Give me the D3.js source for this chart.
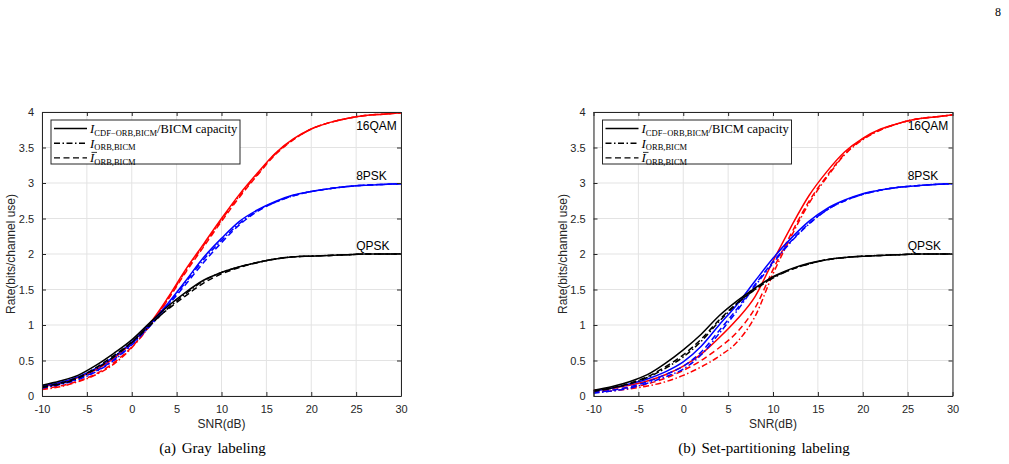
<!DOCTYPE html>
<html>
<head>
<meta charset="utf-8">
<script src="https://cdn.jsdelivr.net/npm/d3@7"></script>
<style>
  body { margin: 0; background: #fff; }
  svg { display: block; }
  .tick-label { font-family: "Liberation Sans", Arial, sans-serif; font-size: 11px; fill: #262626; }
  .axis-label { font-family: "Liberation Sans", Arial, sans-serif; font-size: 12px; fill: #262626; }
  .mod-label { font-family: "Liberation Sans", Arial, sans-serif; font-size: 12px; fill: #000; }
  .legend-text { font-family: "Liberation Serif", "Times New Roman", serif; font-size: 13px; fill: #000; }
  .caption { font-family: "Liberation Serif", "Times New Roman", serif; font-size: 15px; fill: #000; }
</style>
</head>
<body>
<div id="chart"></div>
<script>
// SNR grid (dB)
const snr = [-10, -8, -6, -4, -2, 0, 2, 4, 6, 8, 10, 12, 14, 16, 18, 20, 22, 24, 26, 28, 30];

// (a) Gray labeling
const grayQpskCdf    = [0.15, 0.21, 0.29, 0.43, 0.60, 0.79, 1.03, 1.26, 1.46, 1.63, 1.74, 1.82, 1.88, 1.93, 1.96, 1.97, 1.98, 1.99, 2.00, 2.00, 2.00];
const grayQpskOrb    = [0.12, 0.17, 0.25, 0.38, 0.55, 0.75, 0.99, 1.23, 1.44, 1.62, 1.74, 1.82, 1.88, 1.93, 1.96, 1.97, 1.98, 1.99, 2.00, 2.00, 2.00];
const grayQpskOrbBar = [0.13, 0.18, 0.26, 0.40, 0.57, 0.76, 1.00, 1.22, 1.41, 1.59, 1.72, 1.81, 1.88, 1.93, 1.96, 1.97, 1.98, 1.99, 2.00, 2.00, 2.00];
const gray8pskCdf    = [0.14, 0.19, 0.27, 0.39, 0.55, 0.76, 1.01, 1.30, 1.62, 1.95, 2.22, 2.46, 2.62, 2.74, 2.83, 2.88, 2.92, 2.95, 2.97, 2.98, 2.99];
const gray8pskOrb    = [0.11, 0.16, 0.23, 0.34, 0.50, 0.72, 0.98, 1.28, 1.60, 1.92, 2.19, 2.43, 2.61, 2.73, 2.82, 2.88, 2.92, 2.95, 2.97, 2.98, 2.99];
const gray8pskOrbBar = [0.12, 0.17, 0.24, 0.35, 0.51, 0.73, 0.99, 1.27, 1.57, 1.88, 2.16, 2.41, 2.60, 2.73, 2.82, 2.88, 2.92, 2.95, 2.97, 2.98, 2.99];
const gray16qamCdf    = [0.13, 0.18, 0.26, 0.37, 0.53, 0.75, 1.02, 1.38, 1.78, 2.14, 2.50, 2.84, 3.14, 3.42, 3.62, 3.76, 3.85, 3.91, 3.95, 3.97, 3.99];
const gray16qamOrb    = [0.09, 0.13, 0.20, 0.30, 0.45, 0.68, 0.99, 1.36, 1.76, 2.12, 2.48, 2.82, 3.12, 3.41, 3.61, 3.76, 3.85, 3.91, 3.95, 3.97, 3.99];
const gray16qamOrbBar = [0.10, 0.14, 0.21, 0.31, 0.47, 0.69, 0.99, 1.35, 1.74, 2.10, 2.46, 2.80, 3.11, 3.40, 3.61, 3.76, 3.85, 3.91, 3.95, 3.97, 3.99];

// (b) Set-partitioning labeling
const spQpskCdf    = [0.08, 0.13, 0.20, 0.30, 0.46, 0.65, 0.87, 1.13, 1.34, 1.52, 1.68, 1.79, 1.87, 1.92, 1.95, 1.97, 1.98, 1.99, 2.00, 2.00, 2.00];
const spQpskOrb    = [0.07, 0.11, 0.17, 0.26, 0.39, 0.55, 0.77, 1.05, 1.30, 1.50, 1.66, 1.78, 1.86, 1.92, 1.95, 1.97, 1.98, 1.99, 2.00, 2.00, 2.00];
const spQpskOrbBar = [0.07, 0.11, 0.18, 0.27, 0.41, 0.58, 0.80, 1.07, 1.31, 1.50, 1.67, 1.78, 1.86, 1.92, 1.95, 1.97, 1.98, 1.99, 2.00, 2.00, 2.00];
const sp8pskCdf    = [0.07, 0.11, 0.17, 0.24, 0.34, 0.48, 0.70, 1.00, 1.29, 1.62, 1.94, 2.22, 2.46, 2.64, 2.76, 2.85, 2.90, 2.94, 2.96, 2.98, 2.99];
const sp8pskOrb    = [0.04, 0.07, 0.11, 0.18, 0.27, 0.38, 0.58, 0.88, 1.20, 1.55, 1.87, 2.17, 2.42, 2.62, 2.75, 2.84, 2.90, 2.94, 2.96, 2.98, 2.99];
const sp8pskOrbBar = [0.05, 0.08, 0.13, 0.20, 0.30, 0.42, 0.62, 0.92, 1.23, 1.57, 1.89, 2.18, 2.43, 2.62, 2.75, 2.84, 2.90, 2.94, 2.96, 2.98, 2.99];
const sp16qamCdf    = [0.08, 0.11, 0.15, 0.21, 0.30, 0.42, 0.59, 0.82, 1.08, 1.40, 1.90, 2.38, 2.82, 3.16, 3.44, 3.63, 3.76, 3.84, 3.90, 3.93, 3.96];
const sp16qamOrb    = [0.05, 0.07, 0.10, 0.14, 0.20, 0.29, 0.41, 0.56, 0.76, 1.12, 1.72, 2.24, 2.71, 3.08, 3.40, 3.61, 3.75, 3.84, 3.90, 3.93, 3.96];
const sp16qamOrbBar = [0.06, 0.09, 0.12, 0.17, 0.25, 0.36, 0.50, 0.68, 0.90, 1.24, 1.78, 2.28, 2.74, 3.10, 3.41, 3.62, 3.75, 3.84, 3.90, 3.93, 3.96];

const xTicks = [-10, -5, 0, 5, 10, 15, 20, 25, 30];
const yTicks = [0, 0.5, 1, 1.5, 2, 2.5, 3, 3.5, 4];
const modLabels = ["16QAM", "8PSK", "QPSK"];
const modLabelRates = [3.75, 3.04, 2.06];

const width = 1009, height = 464;
const plotW = 359, plotH = 284, plotTop = 112;
const dashDot = "6,2.5,1.5,2.5";
const dashed = "6,3.5";

const svg = d3.select("#chart").append("svg")
  .attr("width", width)
  .attr("height", height);

// page number
svg.append("text")
  .attr("x", 998).attr("y", 16)
  .attr("text-anchor", "middle")
  .style("font-family", "Liberation Serif, serif")
  .style("font-size", "12px")
  .text("8");

const panels = [
  {
    left: 42,
    caption: "(a) Gray labeling",
    series: [
      { values: gray16qamCdf, color: "#ff0000", dash: null },
      { values: gray16qamOrb, color: "#ff0000", dash: dashDot },
      { values: gray16qamOrbBar, color: "#ff0000", dash: dashed },
      { values: gray8pskCdf, color: "#0000ff", dash: null },
      { values: gray8pskOrb, color: "#0000ff", dash: dashDot },
      { values: gray8pskOrbBar, color: "#0000ff", dash: dashed },
      { values: grayQpskCdf, color: "#000000", dash: null },
      { values: grayQpskOrb, color: "#000000", dash: dashDot },
      { values: grayQpskOrbBar, color: "#000000", dash: dashed }
    ]
  },
  {
    left: 593.5,
    caption: "(b) Set-partitioning labeling",
    series: [
      { values: sp16qamCdf, color: "#ff0000", dash: null },
      { values: sp16qamOrb, color: "#ff0000", dash: dashDot },
      { values: sp16qamOrbBar, color: "#ff0000", dash: dashed },
      { values: sp8pskCdf, color: "#0000ff", dash: null },
      { values: sp8pskOrb, color: "#0000ff", dash: dashDot },
      { values: sp8pskOrbBar, color: "#0000ff", dash: dashed },
      { values: spQpskCdf, color: "#000000", dash: null },
      { values: spQpskOrb, color: "#000000", dash: dashDot },
      { values: spQpskOrbBar, color: "#000000", dash: dashed }
    ]
  }
];

panels.forEach((p, pi) => {
  const g = svg.append("g").attr("transform", `translate(${p.left},${plotTop})`);

  const x = d3.scaleLinear().domain([-10, 30]).range([0, plotW]);
  const y = d3.scaleLinear().domain([0, 4]).range([plotH, 0]);

  // grid
  g.selectAll(".vgrid").data(xTicks).join("line")
    .attr("x1", d => x(d)).attr("x2", d => x(d))
    .attr("y1", 0).attr("y2", plotH)
    .attr("stroke", "#e3e3e3").attr("stroke-width", 1);
  g.selectAll(".hgrid").data(yTicks).join("line")
    .attr("x1", 0).attr("x2", plotW)
    .attr("y1", d => y(d)).attr("y2", d => y(d))
    .attr("stroke", "#e3e3e3").attr("stroke-width", 1);

  // clip
  const clipId = "clip" + pi;
  g.append("clipPath").attr("id", clipId)
    .append("rect").attr("x", 0).attr("y", -1).attr("width", plotW).attr("height", plotH + 1);

  const line = d3.line()
    .x((d, i) => x(snr[i]))
    .y(d => y(d))
    .curve(d3.curveMonotoneX);

  const lines = g.append("g").attr("clip-path", `url(#${clipId})`);
  p.series.forEach(s => {
    lines.append("path")
      .datum(s.values)
      .attr("d", line)
      .attr("fill", "none")
      .attr("stroke", s.color)
      .attr("stroke-width", 1.5)
      .attr("stroke-dasharray", s.dash);
  });

  // axes (MATLAB-like box with inward ticks)
  const axisColor = "#262626";
  const fmt = d => String(d);
  const xb = g.append("g").attr("transform", `translate(0,${plotH})`)
    .call(d3.axisBottom(x).tickValues(xTicks).tickFormat(fmt).tickSizeInner(-4).tickSizeOuter(0).tickPadding(9));
  const xt = g.append("g")
    .call(d3.axisTop(x).tickValues(xTicks).tickSizeInner(-4).tickSizeOuter(0).tickFormat(""));
  const yl = g.append("g")
    .call(d3.axisLeft(y).tickValues(yTicks).tickFormat(fmt).tickSizeInner(-4).tickSizeOuter(0).tickPadding(9));
  const yr = g.append("g").attr("transform", `translate(${plotW},0)`)
    .call(d3.axisRight(y).tickValues(yTicks).tickSizeInner(-4).tickSizeOuter(0).tickFormat(""));
  [xb, xt, yl, yr].forEach(a => {
    a.select(".domain").attr("stroke", axisColor);
    a.selectAll(".tick line").attr("stroke", axisColor);
    a.selectAll(".tick text").attr("class", "tick-label").attr("fill", axisColor);
  });
  yl.selectAll(".tick text").attr("dx", "0.1em");

  // axis labels
  g.append("text")
    .attr("class", "axis-label")
    .attr("x", plotW / 2).attr("y", plotH + 32)
    .attr("text-anchor", "middle")
    .text("SNR(dB)");
  g.append("text")
    .attr("class", "axis-label")
    .attr("transform", `translate(-27,${plotH / 2}) rotate(-90)`)
    .attr("text-anchor", "middle")
    .text("Rate(bits/channel use)");

  // modulation labels
  modLabels.forEach((m, i) => {
    g.append("text")
      .attr("class", "mod-label")
      .attr("x", x(25)).attr("y", y(modLabelRates[i]))
      .text(m);
  });

  // legend
  const lg = g.append("g").attr("transform", "translate(9,8)");
  lg.append("rect")
    .attr("width", 189).attr("height", 44)
    .attr("fill", "#fff").attr("stroke", axisColor).attr("stroke-width", 1);
  const entries = [
    { dash: null, bar: false, sub: "CDF\u2212ORB,BICM", tail: "/BICM capacity" },
    { dash: dashDot, bar: false, sub: "ORB,BICM", tail: "" },
    { dash: dashed, bar: true, sub: "ORB,BICM", tail: "" }
  ];
  entries.forEach((e, i) => {
    const cy = 8.5 + i * 14.7;
    lg.append("line")
      .attr("x1", 3).attr("x2", 36)
      .attr("y1", cy).attr("y2", cy)
      .attr("stroke", "#000").attr("stroke-width", 1.4)
      .attr("stroke-dasharray", e.dash);
    const t = lg.append("text").attr("class", "legend-text")
      .attr("x", 39).attr("y", cy + 4.5);
    t.append("tspan").style("font-style", "italic").text("I");
    t.append("tspan").attr("dy", 2.5).style("font-size", "8.5px").text(e.sub);
    if (e.tail) t.append("tspan").attr("dy", -2.5).style("font-size", "12.5px").text(e.tail);
    if (e.bar) {
      lg.append("line")
        .attr("x1", 40.5).attr("x2", 46)
        .attr("y1", cy - 5.5).attr("y2", cy - 5.5)
        .attr("stroke", "#000").attr("stroke-width", 0.8);
    }
  });

  // caption
  g.append("text")
    .attr("class", "caption")
    .attr("x", plotW / 2 - 9).attr("y", plotH + 57)
    .attr("text-anchor", "middle")
    .style("word-spacing", "2px")
    .text(p.caption);
});
</script>
</body>
</html>
